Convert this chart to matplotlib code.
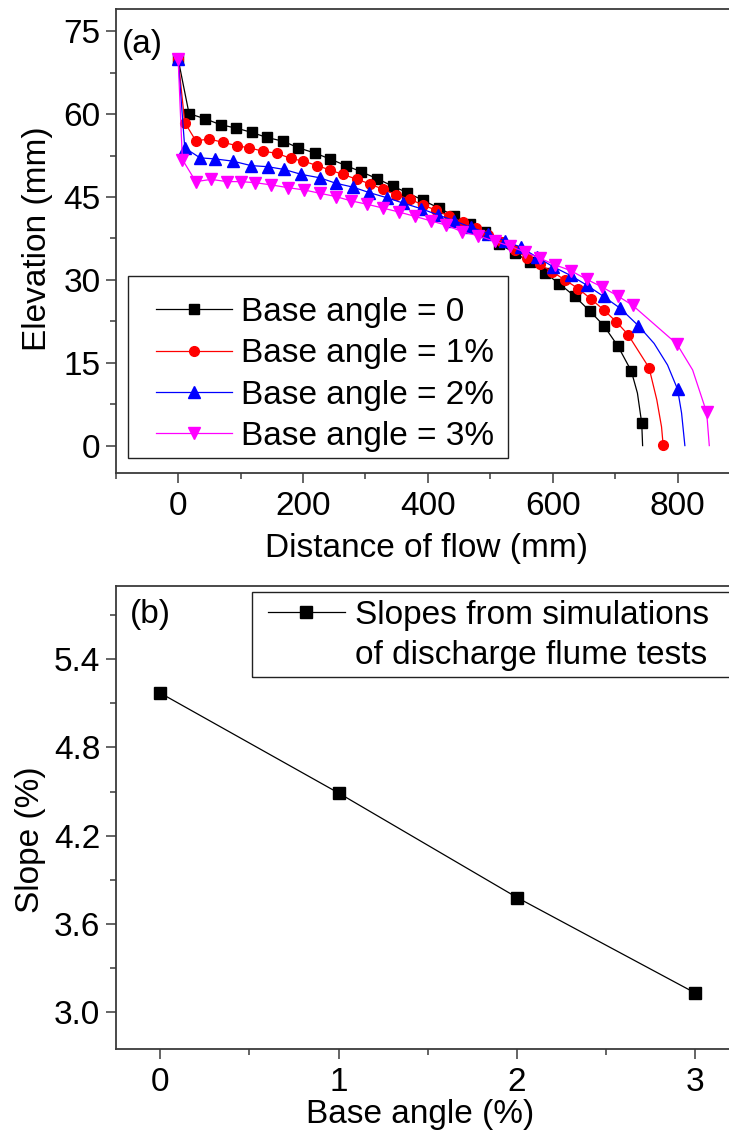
import matplotlib
matplotlib.use("Agg")
import matplotlib.pyplot as plt
from matplotlib.lines import Line2D
from matplotlib.patches import Rectangle
from matplotlib.ticker import MultipleLocator, FormatStrFormatter

plt.rcParams['font.family'] = ['Liberation Sans', 'DejaVu Sans']
plt.rcParams['font.size'] = 24

# ---- panel (a): free-surface profiles, distance (mm) / elevation (mm) ----
# symbols are on the read points; points in *_nomark are line-only points of the curve
x_b0 = [0, 17.5, 42.7, 67.9, 92.6, 118.3, 141.8, 168.6, 192.8, 218.5, 243.1, 268.8, 292.9,
        319.3, 343.4, 366.9, 392.6, 417.6, 442.5, 467.7, 491.8, 514.3, 538.9, 564.1, 587.1,
        610.8, 635.5, 660.0, 682.0, 704.5, 725.9, 735.7, 742.6, 744.0]
y_b0 = [70, 60.1, 59.2, 58.1, 57.5, 56.7, 55.8, 55.1, 53.9, 53.0, 51.9, 50.7, 49.6,
        48.3, 47.0, 45.8, 44.4, 43.0, 41.6, 40.2, 38.6, 36.5, 34.9, 33.2, 31.3,
        29.3, 27.0, 24.3, 21.7, 18.0, 13.5, 9.5, 4.05, 0.0]
b0_nomark = [31, 33]

x_b1 = [0, 10.6, 28.3, 50.2, 72.2, 94.2, 114.0, 136.5, 159.0, 180.4, 200.8, 222.8, 243.1,
        264.0, 287.1, 306.9, 328.3, 349.2, 371.0, 392.0, 413.0, 433.4, 455.9, 476.8, 497.1,
        518.0, 538.9, 558.8, 579.0, 599.0, 619.5, 641.3, 661.7, 681.5, 702.0, 720.6, 754.3,
        766.7, 774.3, 776.9]
y_b1 = [70, 58.5, 55.2, 55.5, 54.9, 54.3, 53.9, 53.3, 52.9, 52.0, 51.5, 50.7, 49.9,
        49.1, 48.2, 47.4, 46.4, 45.4, 44.6, 43.6, 42.6, 41.6, 40.4, 39.4, 38.1,
        36.8, 35.5, 34.0, 32.8, 31.5, 30.0, 28.4, 26.5, 24.6, 22.4, 20.1, 14.1,
        8.3, 3.4, 0.1]
b1_nomark = [37, 38]

x_b2 = [0, 10.6, 35.2, 59.8, 87.8, 116.7, 143.4, 169.8, 197.6, 226.5, 252.7, 280.1, 306.4,
        333.8, 360.8, 389.0, 415.5, 442.5, 469.3, 497.1, 522.8, 549.2, 574.9, 600.6, 628.7,
        655.3, 681.5, 707.7, 737.3, 762.4, 783.9, 800.0, 806.4, 811.7]
y_b2 = [70, 53.9, 52.1, 51.9, 51.5, 50.7, 50.5, 50.0, 49.1, 48.5, 47.5, 46.8, 45.8,
        44.9, 43.9, 42.9, 41.8, 40.7, 39.5, 38.4, 37.1, 35.9, 34.1, 32.4, 30.8,
        29.0, 27.0, 24.9, 21.7, 18.5, 14.6, 10.2, 5.9, 0.0]
b2_nomark = [29, 30, 32, 33]

x_b3 = [0, 6.8, 28.3, 52.9, 78.1, 100.6, 123.6, 149.4, 176.2, 201.3, 226.5, 252.3, 277.5,
        302.6, 328.3, 353.5, 379.5, 404.5, 429.6, 455.3, 480.5, 506.8, 532.0, 556.1, 580.2,
        604.3, 628.5, 654.5, 679.4, 704.0, 728.0, 798.9, 824.1, 846.6, 850.8]
y_b3 = [70, 51.8, 47.8, 48.2, 47.8, 47.8, 47.6, 47.2, 46.7, 46.3, 45.7, 45.1, 44.3,
        43.7, 43.0, 42.3, 41.5, 40.7, 39.9, 38.7, 38.0, 37.0, 36.1, 35.0, 33.9,
        32.7, 31.7, 30.1, 28.7, 27.1, 25.4, 18.4, 13.7, 6.0, 0.0]
b3_nomark = [32, 34]

labels_a = ["Base angle = 0", "Base angle = 1%", "Base angle = 2%", "Base angle = 3%"]
colors_a = ["#000000", "#ff0000", "#0000ff", "#ff00ff"]
markers_a = ["s", "o", "^", "v"]

# ---- panel (b): slope vs base angle ----
base_angle = [0, 1, 2, 3]
slope = [5.17, 4.49, 3.78, 3.13]
label_b = ["Slopes from simulations", "of discharge flume tests"]

W, H = 729, 1133
fig = plt.figure(figsize=(W / 100, H / 100), dpi=100)

def px_axes(left, top, right, bottom):
    return fig.add_axes([left / W, 1 - bottom / H, (right - left) / W, (bottom - top) / H])

spine_c = "#3a3a3a"

def style(ax):
    for s in ax.spines.values():
        s.set_color(spine_c)
        s.set_linewidth(1.3)
    ax.tick_params(which="both", direction="out", color=spine_c, width=1.1,
                   right=False, top=False)
    ax.tick_params(which="major", length=7, pad=6)
    ax.tick_params(which="minor", length=4)
    ax.tick_params(axis="y", which="major", pad=4)

def frame_box(ax, x0, y0, x1, y1):
    ax.add_patch(Rectangle((x0, y0), x1 - x0, y1 - y0, transform=ax.transAxes,
                           fill=False, edgecolor="#222222", lw=1.0, clip_on=False, zorder=5))

ax1 = px_axes(115.7, 9.3, 740, 473.2)
xs = [x_b0, x_b1, x_b2, x_b3]
ys = [y_b0, y_b1, y_b2, y_b3]
nomarks = [b0_nomark, b1_nomark, b2_nomark, b3_nomark]
for x, y, nm, lab, c, m in zip(xs, ys, nomarks, labels_a, colors_a, markers_a):
    keep = [i for i in range(len(x)) if i not in nm]
    ms = 6.5 if m == "s" else (7 if m == "o" else 8)
    ax1.plot(x, y, color=c, lw=0.9, marker=m, ms=ms, mec=c, mfc=c,
             markevery=keep, label=lab)
ax1.set_xlim(-100, 900)
ax1.set_ylim(-5, 79)
ax1.xaxis.set_major_locator(MultipleLocator(200))
ax1.xaxis.set_minor_locator(MultipleLocator(100))
ax1.yaxis.set_major_locator(MultipleLocator(15))
ax1.yaxis.set_minor_locator(MultipleLocator(7.5))
style(ax1)
ax1.set_xlabel("Distance of flow (mm)")
ax1.set_ylabel("Elevation (mm)")
ax1.xaxis.label.set_va("center")
ax1.yaxis.label.set_va("center")
ax1.xaxis.set_label_coords(0.498, -0.163)
ax1.yaxis.set_label_coords(-0.125, 0.505)
ax1.text(0.01, 0.925, "(a)", transform=ax1.transAxes, ha="left", va="center")
ax1.legend(loc="upper left", bbox_to_anchor=(0.0641, 0.3798), borderaxespad=0,
           frameon=False, handlelength=2.29, handletextpad=0.27, labelspacing=0.31,
           borderpad=0, fontsize=24)
frame_box(ax1, 0.0192, 0.0328, 0.6284, 0.4251)

ax2 = px_axes(115.7, 585.7, 740, 1049)
ax2.plot(base_angle, slope, color="#000000", lw=0.9, marker="s", ms=8.5,
         mfc="#000000", mec="#000000")
ax2.set_xlim(-0.25, 3.25)
ax2.set_ylim(2.75, 5.9)
ax2.xaxis.set_major_locator(MultipleLocator(1))
ax2.xaxis.set_minor_locator(MultipleLocator(0.5))
ax2.yaxis.set_major_locator(MultipleLocator(0.6))
ax2.yaxis.set_minor_locator(MultipleLocator(0.3))
ax2.yaxis.set_major_formatter(FormatStrFormatter("%.1f"))
style(ax2)
ax2.set_xlabel("Base angle (%)")
ax2.set_ylabel("Slope (%)")
ax2.xaxis.label.set_va("center")
ax2.yaxis.label.set_va("center")
ax2.xaxis.set_label_coords(0.488, -0.142)
ax2.yaxis.set_label_coords(-0.137, 0.451)
ax2.text(0.023, 0.937, "(b)", transform=ax2.transAxes, ha="left", va="center")
h_b = [Line2D([], [], color="#000000", lw=0.9, marker="s", ms=8.5),
       Line2D([], [], linestyle="none")]
ax2.legend(h_b, label_b, loc="upper left", bbox_to_anchor=(0.244, 0.969), borderaxespad=0,
           frameon=False, handlelength=2.3, handletextpad=0.3, labelspacing=0.28,
           borderpad=0, fontsize=24)
frame_box(ax2, 0.2183, 0.8029, 1.2, 0.9857)

fig.savefig("out.png", dpi=100)
